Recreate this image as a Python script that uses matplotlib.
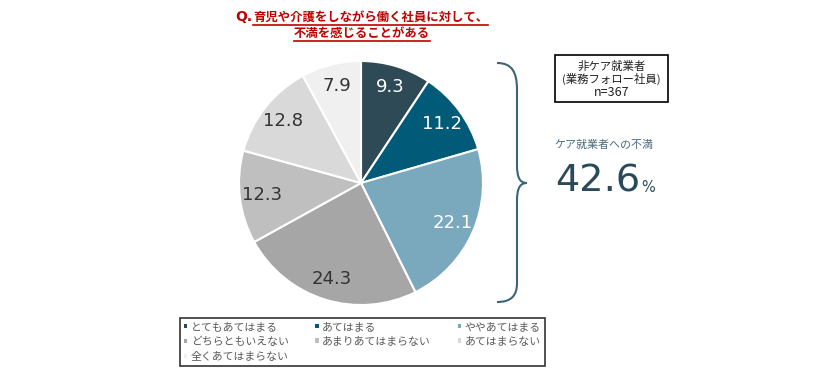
import matplotlib
matplotlib.use("Agg")
from matplotlib import pyplot as plt
from matplotlib.patches import Patch, Rectangle, PathPatch
from matplotlib.path import Path

plt.rcParams['font.family'] = ['Noto Sans CJK JP', 'DejaVu Sans']

# data
categories = ['とてもあてはまる', 'あてはまる', 'ややあてはまる', 'どちらともいえない',
              'あまりあてはまらない', 'あてはまらない', '全くあてはまらない']
values = [9.3, 11.2, 22.1, 24.3, 12.3, 12.8, 7.9]
colors = ['#2e4a56', '#015b78', '#7aa8bd', '#a6a6a6', '#bfbfbf', '#d9d9d9', '#f0f0f0']
label_colors = ['white', 'white', 'white', '#333333', '#333333', '#333333', '#333333']
title1 = '育児や介護をしながら働く社員に対して、'
title2 = '不満を感じることがある'
group_lines = ['非ケア就業者', '(業務フォロー社員)', 'n=367']
sub_text = 'ケア就業者への不満'
total_value = '42.6'

W, H = 840, 380
fig = plt.figure(figsize=(W / 100, H / 100), dpi=100)

# overlay axes in pixel coords
ov = fig.add_axes([0, 0, 1, 1])
ov.set_xlim(0, W)
ov.set_ylim(H, 0)
ov.axis('off')

# pie
cx, cy, r = 361, 183, 122
pax = fig.add_axes([(cx - r) / W, (H - cy - r) / H, 2 * r / W, 2 * r / H])
wedges, texts = pax.pie(values, colors=colors, startangle=90, counterclock=False,
                        labels=[f'{v:.1f}' for v in values], labeldistance=0.82,
                        wedgeprops=dict(edgecolor='white', linewidth=1.5))
for t, c in zip(texts, label_colors):
    t.set_color(c)
    t.set_fontsize(13)
    t.set_family('DejaVu Sans')
    t.set_ha('center')
    t.set_va('center')
pax.set_xlim(-1, 1)
pax.set_ylim(-1, 1)
pax.set_aspect('equal')

# title with underline
red = '#c00000'
fig.canvas.draw()
rend = fig.canvas.get_renderer()
t1 = ov.text(253, 17, title1, color=red, fontsize=8.9, fontweight='bold', ha='left', va='center')
ov.text(252, 17, 'Q.', color=red, fontsize=10, fontweight='bold', ha='right', va='center',
        family='DejaVu Sans')
t2 = ov.text(362, 33, title2, color=red, fontsize=8.9, fontweight='bold', ha='center', va='center')
inv = ov.transData.inverted()
for t, y in [(t1, 24.5), (t2, 40.5)]:
    bb = t.get_window_extent(renderer=rend)
    x0 = inv.transform((bb.x0, 0))[0]
    x1 = inv.transform((bb.x1, 0))[0]
    ov.plot([x0, x1], [y, y], color=red, lw=1.2)

# brace
bc = '#3c6478'
verts = [(497, 63), (512, 63), (517, 72), (517, 90),
         (517, 165),
         (517, 178), (520, 183), (527, 183),
         (520, 183), (517, 188), (517, 201),
         (517, 283),
         (517, 295), (512, 302), (497, 302)]
codes = [Path.MOVETO, Path.CURVE4, Path.CURVE4, Path.CURVE4,
         Path.LINETO,
         Path.CURVE4, Path.CURVE4, Path.CURVE4,
         Path.CURVE4, Path.CURVE4, Path.CURVE4,
         Path.LINETO,
         Path.CURVE4, Path.CURVE4, Path.CURVE4]
ov.add_patch(PathPatch(Path(verts, codes), facecolor='none', edgecolor=bc, lw=1.5))

# group box
ov.add_patch(Rectangle((555, 55), 113, 47, facecolor='white', edgecolor='black', lw=1.2))
for line, y, fs in zip(group_lines, [66.5, 79, 92], [8.2, 8.2, 9]):
    ov.text(611.5, y, line, ha='center', va='center', fontsize=fs, color='#222222')

# right side total
ov.text(604, 145, sub_text, ha='center', va='center', fontsize=7.9, color='#4a6a7a')
ov.text(555, 192, total_value, ha='left', va='baseline', fontsize=27.5, color='#2a4a5a',
        family='DejaVu Sans')
ov.text(641, 192, '%', ha='left', va='baseline', fontsize=10.5, color='#2a4a5a',
        family='DejaVu Sans')

# legend (row-major order)
order = [0, 3, 6, 1, 4, 2, 5]
handles = [Patch(facecolor=colors[i], edgecolor='none', label=categories[i]) for i in order]
leg = fig.legend(handles=handles, ncol=3, loc='upper left',
                 bbox_to_anchor=(180 / W, 1 - 318 / H), fontsize=7.8,
                 handlelength=0.3, handleheight=0.3, handletextpad=0.35,
                 columnspacing=2.45, labelspacing=0.45, borderpad=0.35,
                 frameon=True, fancybox=False, edgecolor='black', borderaxespad=0)
leg.get_frame().set_linewidth(1.2)
for txt in leg.get_texts():
    txt.set_color('#595959')

fig.savefig('out.png', dpi=100, facecolor='white')
